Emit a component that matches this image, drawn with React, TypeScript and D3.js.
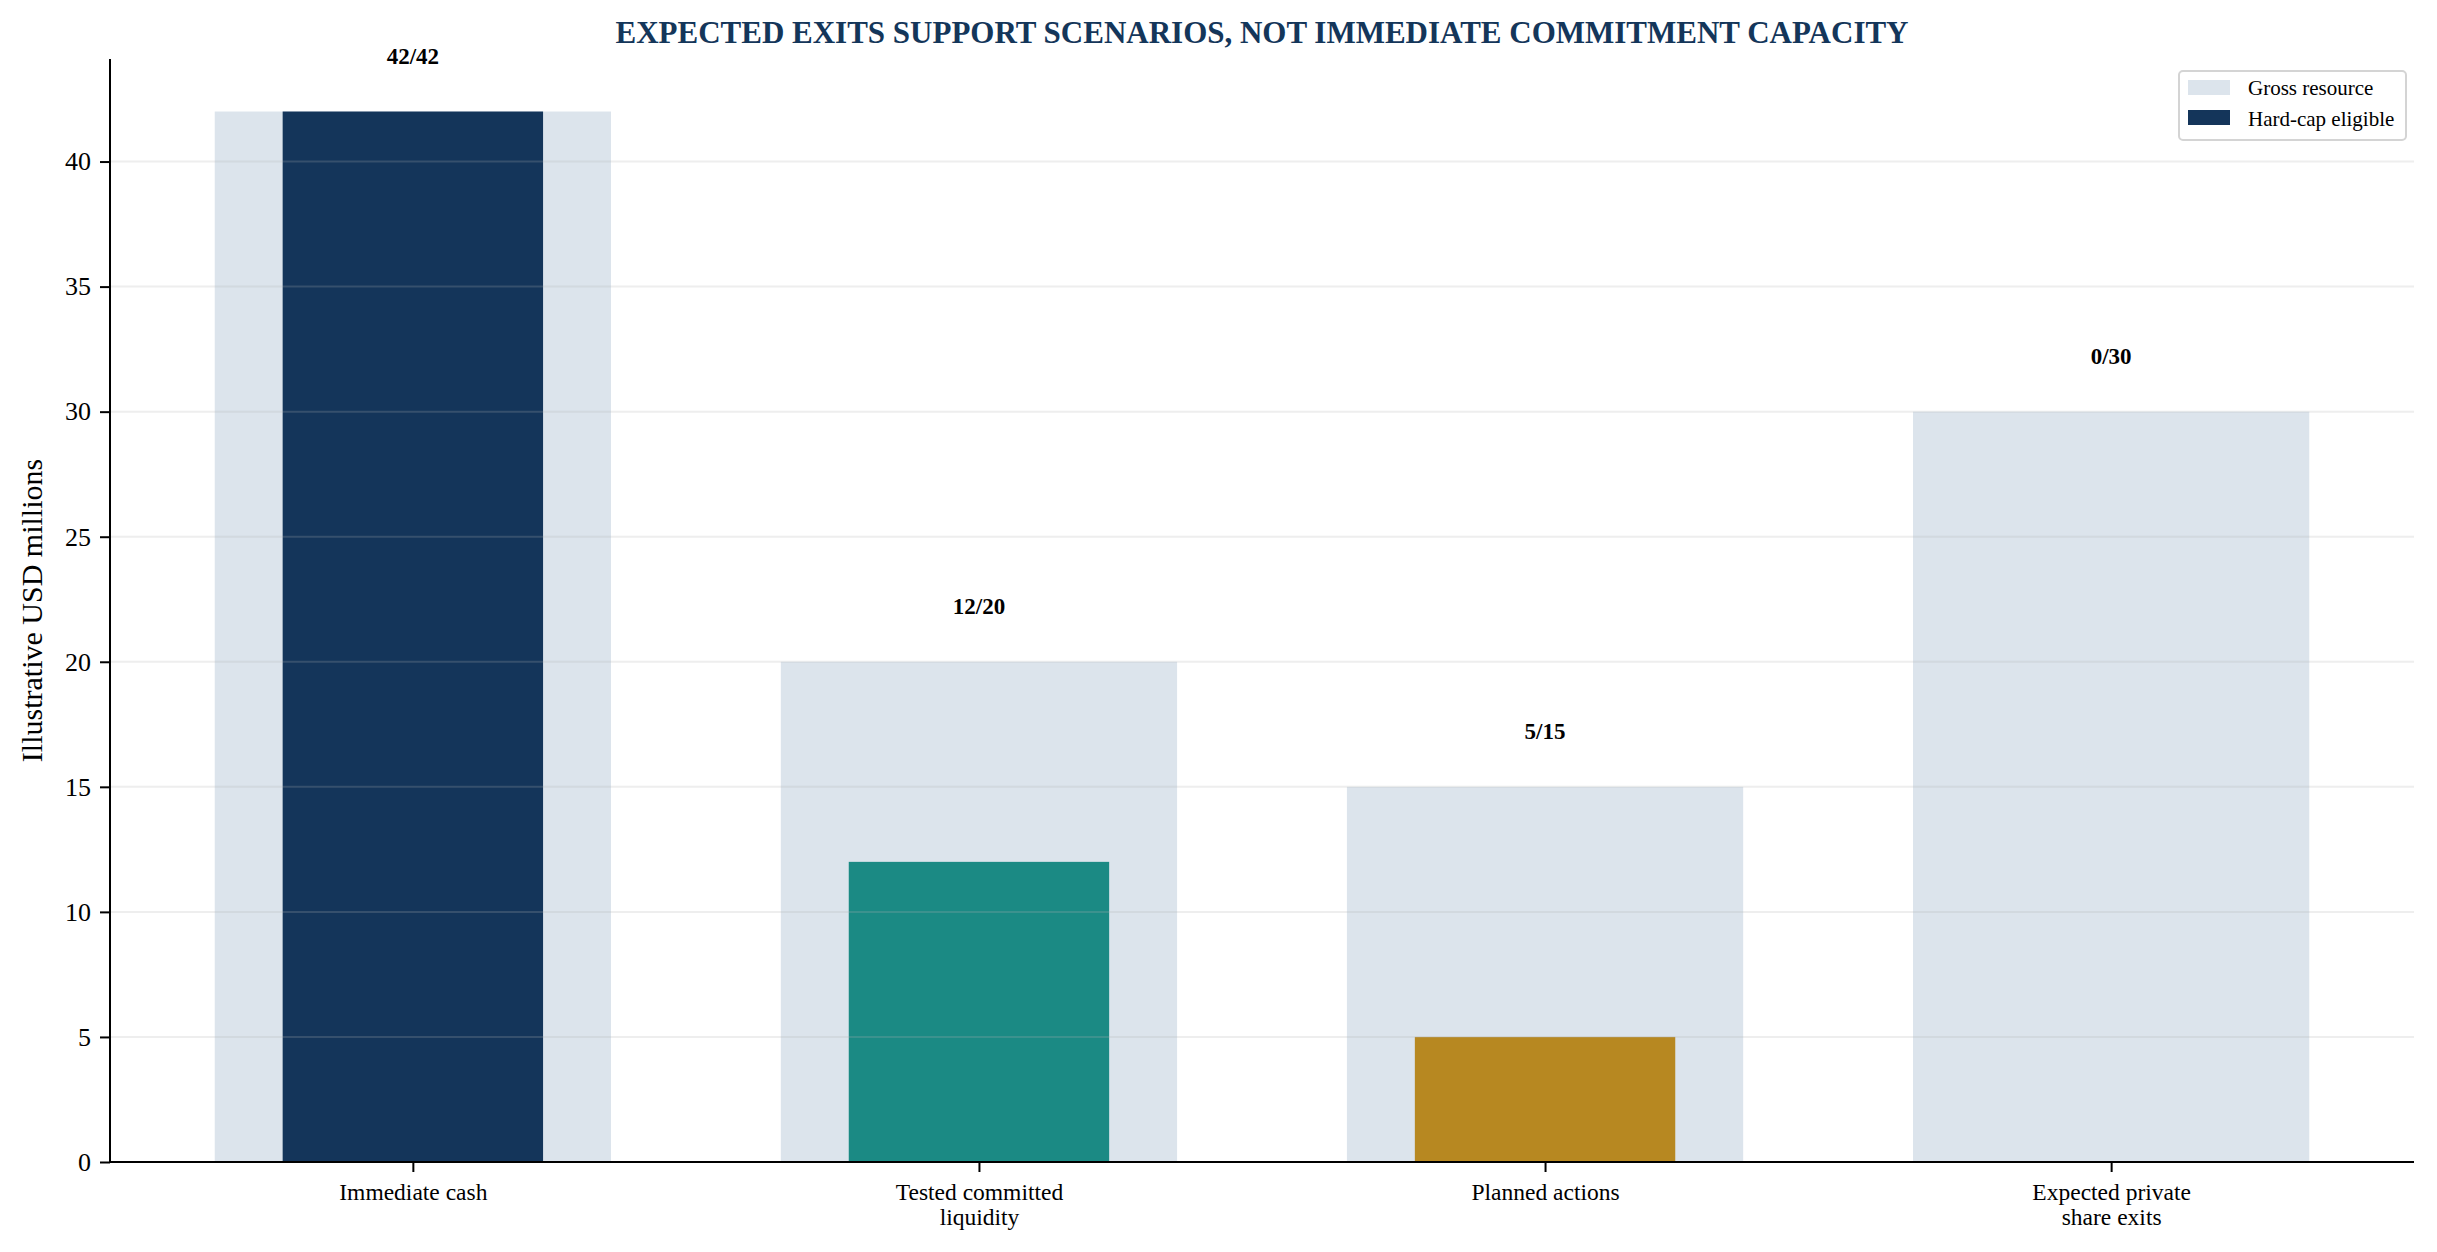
import { useEffect, useRef } from 'react';
import * as d3 from 'd3';

const categories = ['Immediate cash', 'Tested committed\nliquidity', 'Planned actions', 'Expected private\nshare exits'];
const grossValues = [42, 20, 15, 30];
const eligibleValues = [42, 12, 5, 0];
const eligibleColors = ['#14355a', '#1b8a84', '#b78821', '#6b7b8c'];
const yTicks = [0, 5, 10, 15, 20, 25, 30, 35, 40];
const legendItems = [
  { label: 'Gross resource', color: '#dce4ec' },
  { label: 'Hard-cap eligible', color: '#14355a' },
];

const WIDTH = 2437;
const HEIGHT = 1252;
const FONT = '"Liberation Serif", "Times New Roman", serif';

export default function App() {
  const svgRef = useRef<SVGSVGElement>(null);

  useEffect(() => {
    if (!svgRef.current) return;
    const svg = d3.select(svgRef.current);
    svg.selectAll('*').remove();

    const margin = { top: 59, right: 23, bottom: 90, left: 110 };
    const innerRight = WIDTH - margin.right;
    const innerBottom = HEIGHT - margin.bottom;

    const x = d3.scaleLinear().domain([-0.535, categories.length - 1 + 0.535]).range([margin.left, innerRight]);
    const y = d3.scaleLinear().domain([0, 44.1]).range([innerBottom, margin.top]);
    const unit = x(1) - x(0);

    // gross bars
    svg.append('g')
      .selectAll('rect')
      .data(grossValues)
      .enter()
      .append('rect')
      .attr('x', (_, i) => x(i) - unit * 0.35)
      .attr('width', unit * 0.7)
      .attr('y', d => y(d))
      .attr('height', d => y(0) - y(d))
      .attr('fill', '#dce4ec');

    // eligible bars
    svg.append('g')
      .selectAll('rect')
      .data(eligibleValues)
      .enter()
      .append('rect')
      .attr('x', (_, i) => x(i) - unit * 0.23)
      .attr('width', unit * 0.46)
      .attr('y', d => y(d))
      .attr('height', d => y(0) - y(d))
      .attr('fill', (_, i) => eligibleColors[i]);

    // grid over bars
    svg.append('g')
      .selectAll('line')
      .data(yTicks)
      .enter()
      .append('line')
      .attr('x1', margin.left)
      .attr('x2', innerRight)
      .attr('y1', d => y(d))
      .attr('y2', d => y(d))
      .attr('stroke', '#b0b0b0')
      .attr('stroke-opacity', 0.22)
      .attr('stroke-width', 2);

    // value labels
    svg.append('g')
      .selectAll('text')
      .data(grossValues)
      .enter()
      .append('text')
      .attr('x', (_, i) => x(i))
      .attr('y', d => y(d + 2) + 2)
      .attr('text-anchor', 'middle')
      .style('font-family', FONT)
      .style('font-size', '23px')
      .style('font-weight', 'bold')
      .style('fill', '#000')
      .text((d, i) => `${eligibleValues[i]}/${d}`);

    // y axis
    const yAxis = svg.append('g')
      .attr('transform', `translate(${margin.left},0)`)
      .call(d3.axisLeft(y).tickValues(yTicks).tickSize(10).tickPadding(9).tickSizeOuter(0));
    yAxis.select('.domain').attr('stroke', '#000').attr('stroke-width', 2)
      .attr('d', `M0,${y(0)}V${margin.top}`);
    yAxis.selectAll('.tick line').attr('stroke', '#000').attr('stroke-width', 2);
    yAxis.selectAll('.tick text')
      .style('font-family', FONT)
      .style('font-size', '26px')
      .style('fill', '#000');

    // x axis
    const xAxis = svg.append('g')
      .attr('transform', `translate(0,${innerBottom})`)
      .call(d3.axisBottom(x).tickValues(d3.range(categories.length)).tickSize(10).tickSizeOuter(0).tickFormat(() => ''));
    xAxis.select('.domain').attr('stroke', '#000').attr('stroke-width', 2)
      .attr('d', `M${margin.left},0H${innerRight}`);
    xAxis.selectAll('.tick line').attr('stroke', '#000').attr('stroke-width', 2);
    xAxis.selectAll('.tick').each(function (_, i) {
      const lines = categories[i].split('\n');
      const t = d3.select(this).append('text')
        .attr('text-anchor', 'middle')
        .style('font-family', FONT)
        .style('font-size', '23.5px')
        .style('fill', '#000');
      lines.forEach((ln, j) => {
        t.append('tspan').attr('x', 0).attr('y', 38 + j * 25).text(ln);
      });
    });

    // y label
    svg.append('text')
      .attr('transform', `translate(31,${(margin.top + innerBottom) / 2}) rotate(-90)`)
      .attr('text-anchor', 'middle')
      .attr('dominant-baseline', 'central')
      .style('font-family', FONT)
      .style('font-size', '30px')
      .style('fill', '#000')
      .text('Illustrative USD millions');

    // title
    svg.append('text')
      .attr('x', (margin.left + innerRight) / 2)
      .attr('y', 43)
      .attr('text-anchor', 'middle')
      .style('font-family', FONT)
      .style('font-size', '31px')
      .style('font-weight', 'bold')
      .style('fill', '#14365a')
      .text('EXPECTED EXITS SUPPORT SCENARIOS, NOT IMMEDIATE COMMITMENT CAPACITY');

    // legend
    const legend = svg.append('g').attr('transform', 'translate(2179,71)');
    legend.append('rect')
      .attr('width', 227).attr('height', 69).attr('rx', 4)
      .attr('fill', '#fff').attr('stroke', '#d4d4d4').attr('stroke-width', 2);
    legendItems.forEach((item, i) => {
      legend.append('rect')
        .attr('x', 9).attr('y', 9 + i * 30).attr('width', 42).attr('height', 15)
        .attr('fill', item.color);
      legend.append('text')
        .attr('x', 69).attr('y', 24 + i * 30.5)
        .style('font-family', FONT)
        .style('font-size', '21px')
        .style('fill', '#000')
        .text(item.label);
    });
  }, []);

  return (
    <svg
      ref={svgRef}
      width={WIDTH}
      height={HEIGHT}
      style={{ position: 'absolute', left: 0, top: 0, background: '#fff' }}
    />
  );
}
